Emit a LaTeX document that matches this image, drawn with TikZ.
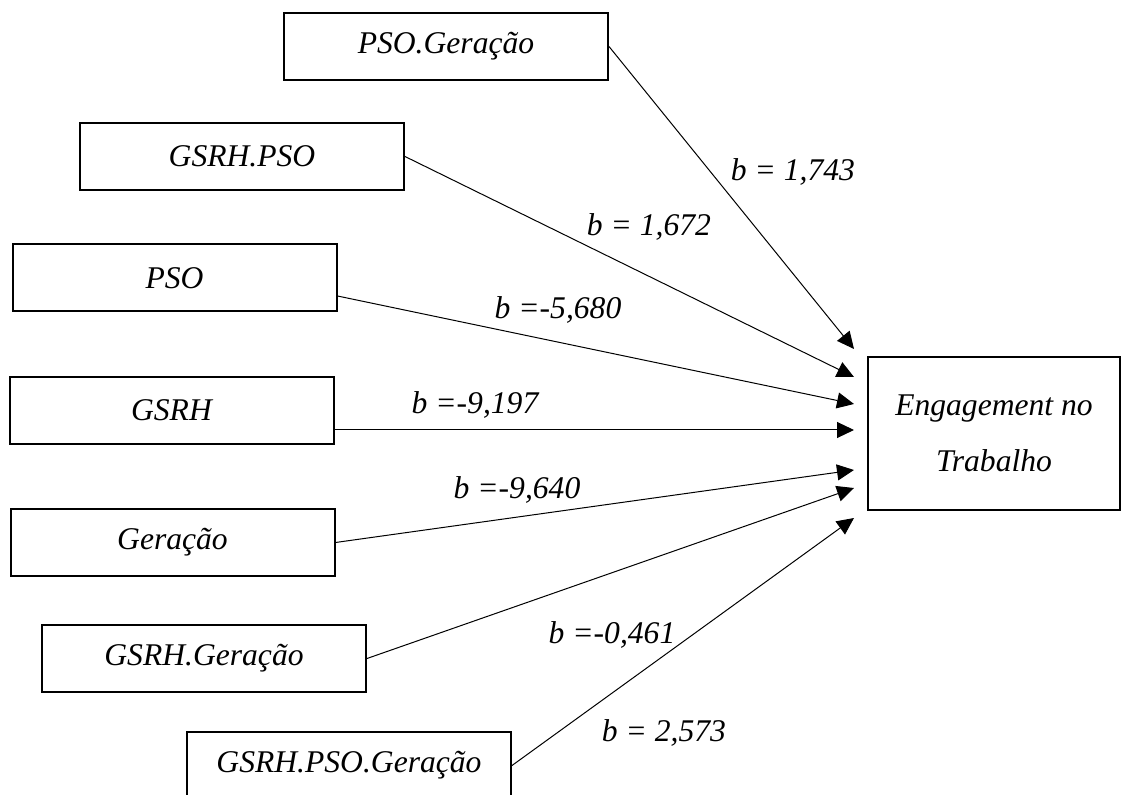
\documentclass[tikz,border=0pt]{standalone}
\usepackage{fontspec}
\setmainfont{Liberation Serif}
\usetikzlibrary{arrows.meta}
\usetikzlibrary{positioning}

\begin{document}
\begin{tikzpicture}[x=0.5pt,y=-0.5pt,
		varnode/.style={draw,line width=1pt,minimum width=162pt,minimum height=33.5pt,inner sep=0pt,
			font=\fontsize{15.8}{19}\selectfont\itshape},
		outnode/.style={draw,line width=1pt,minimum width=126pt,minimum height=76.5pt,inner sep=0pt,
			align=center,font=\fontsize{15.8}{28}\selectfont\itshape},
		coef/.style={inner sep=0pt,font=\fontsize{15.8}{19}\selectfont\itshape},
		->,>={Triangle[length=8.5pt,width=8pt]},line width=0.5pt
	]
	\useasboundingbox (0,0) rectangle (1123,795);

	% the predictors
	\foreach \name/\xc/\yc/\txt in {psoger/446/46.5/PSO.Geração,gsrhpso/242/156.5/GSRH.PSO,
		pso/174.5/278/PSO,gsrh/171.5/410.5/GSRH,ger/172.5/542.5/Geração,
		gsrhger/204/658.5/GSRH.Geração,gsrhpsoger/349/765.5/GSRH.PSO.Geração}
		\node[varnode] (\name) at (\xc,\yc) {\txt};

	% the outcome
	\node[outnode] (eng) at (994,433.5) {Engagement no\\Trabalho};

	% the arrow tips
	\foreach \i/\dy in {1/42.25,2/28.25,3/14.75,4/1.75,5/-18.25,6/-27.25,7/-42.25}
		\coordinate (t\i) at ([xshift=-6.5pt,yshift=\dy pt]eng.west);

	% the edges
	\draw (psoger.east) -- (t1);
	\draw (gsrhpso.east) -- (t2);
	\draw ([yshift=-9pt]pso.east) -- (t3);
	\draw ([yshift=-9.75pt]gsrh.east) -- (t4);
	\draw (ger.east) -- (t5);
	\draw (gsrhger.east) -- (t6);
	\draw (gsrhpsoger.east) -- (t7);

	% the coefficients
	\node[coef] (b1) at (793,172) {b = 1,743};
	\node[coef] (b2) at (649,227) {b = 1,672};
	\node[coef] (b3) at (558,310) {b =-5,680};
	\node[coef] (b4) at (475,405) {b =-9,197};
	\node[coef] (b5) at (517,490) {b =-9,640};
	\node[coef] (b6) at (612,635) {b =-0,461};
	\node[coef] (b7) at (664,733) {b = 2,573};
\end{tikzpicture}
\end{document}
